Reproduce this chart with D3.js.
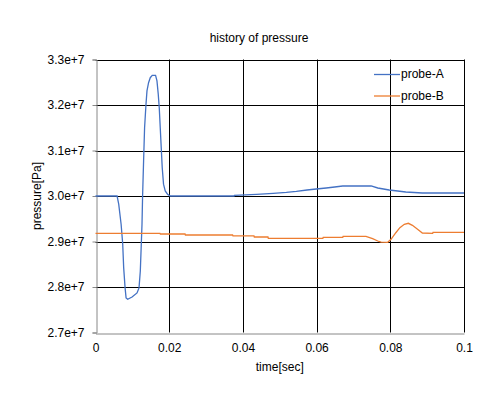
<!DOCTYPE html>
<html>
<head>
<meta charset="utf-8">
<script src="https://cdn.jsdelivr.net/npm/d3@7"></script>
<style>
  body { margin: 0; background: #fff; }
  text { font-family: "Liberation Sans", Arial, sans-serif; font-size: 12px; fill: #000; }
</style>
</head>
<body>
<script>
// DATA
var xTicks = [0, 0.02, 0.04, 0.06, 0.08, 0.1];
var yTicks = [2.7e7, 2.8e7, 2.9e7, 3.0e7, 3.1e7, 3.2e7, 3.3e7];
var seriesNames = ["probe-A", "probe-B"];

var probeA = [
  [0, 3.0e7], [0.00586, 3.0e7], [0.0063, 2.982e7], [0.00695, 2.938e7], [0.00738, 2.895e7],
  [0.00765, 2.842e7], [0.00803, 2.798e7], [0.0083, 2.776e7], [0.00873, 2.773e7], [0.00992, 2.778e7],
  [0.01127, 2.787e7], [0.01181, 2.798e7], [0.01216, 2.835e7], [0.01243, 2.895e7], [0.01262, 2.938e7],
  [0.01278, 3.0e7], [0.01305, 3.077e7], [0.01332, 3.150e7], [0.0137, 3.2015e7], [0.01397, 3.231e7],
  [0.0144, 3.249e7], [0.01486, 3.26e7], [0.0154, 3.265e7], [0.0163, 3.265e7], [0.01668, 3.253e7],
  [0.01703, 3.2235e7], [0.0173, 3.194e7], [0.01757, 3.150e7], [0.01784, 3.106e7], [0.01811, 3.062e7],
  [0.01846, 3.026e7], [0.01892, 3.011e7], [0.01954, 3.004e7], [0.0203, 3.0e7], [0.0376, 3.0e7],
  [0.0377, 3.0015e7], [0.0437, 3.0037e7], [0.0482, 3.0059e7], [0.0518, 3.0081e7], [0.0545, 3.0103e7],
  [0.0574, 3.0132e7], [0.0599, 3.0154e7], [0.0626, 3.0176e7], [0.0649, 3.0198e7], [0.0671, 3.022e7],
  [0.0748, 3.022e7], [0.0766, 3.0176e7], [0.0797, 3.0132e7], [0.082, 3.011e7], [0.0842, 3.0088e7],
  [0.0887, 3.0066e7], [0.1, 3.0066e7]
];

var probeB = [
  [0, 2.918e7], [0.0175, 2.918e7], [0.0176, 2.9165e7], [0.0243, 2.9165e7], [0.0244, 2.9143e7],
  [0.0372, 2.9143e7], [0.0373, 2.9125e7], [0.043, 2.9125e7], [0.0431, 2.9099e7], [0.0468, 2.9099e7],
  [0.0469, 2.907e7], [0.0617, 2.907e7], [0.0618, 2.9092e7], [0.0671, 2.9092e7], [0.0672, 2.9114e7],
  [0.0734, 2.9114e7], [0.0752, 2.9062e7], [0.0766, 2.9011e7], [0.0775, 2.8985e7], [0.0793, 2.8982e7],
  [0.0802, 2.9048e7], [0.0815, 2.9193e7], [0.0826, 2.9303e7], [0.0838, 2.9378e7], [0.0849, 2.94e7],
  [0.086, 2.9356e7], [0.0874, 2.9268e7], [0.0887, 2.9187e7], [0.0915, 2.918e7], [0.0916, 2.9202e7],
  [0.1, 2.9202e7]
];

var colors = ["#4472c4", "#ed7d31"];

// SETUP
var width = 502, height = 397,
    margin = {top: 59.5, right: 38, bottom: 64.5, left: 95.5};

var svg = d3.select("body").append("svg")
    .attr("width", width)
    .attr("height", height);

var x = d3.scaleLinear().domain([0, 0.1]).range([margin.left, width - margin.right]);
var y = d3.scaleLinear().domain([2.7e7, 3.3e7]).range([height - margin.bottom, margin.top]);

// gridlines
svg.append("g")
    .selectAll("line.hgrid")
    .data(yTicks.slice(1))
  .enter().append("line")
    .attr("x1", x(0)).attr("x2", x(0.1))
    .attr("y1", d => Math.round(y(d)) + 0.5).attr("y2", d => Math.round(y(d)) + 0.5)
    .attr("stroke", "#000");

svg.append("g")
    .selectAll("line.vgrid")
    .data(xTicks.slice(1))
  .enter().append("line")
    .attr("x1", d => Math.round(x(d)) + 0.5).attr("x2", d => Math.round(x(d)) + 0.5)
    .attr("y1", y(3.3e7)).attr("y2", y(2.7e7))
    .attr("stroke", "#000");

// axes
var xAxis = svg.append("g")
    .attr("transform", "translate(0," + (Math.round(y(2.7e7)) + 0.5) + ")")
    .call(d3.axisBottom(x).tickValues(xTicks).tickSize(0).tickPadding(10).tickFormat(d3.format("")));
var yAxis = svg.append("g")
    .attr("transform", "translate(" + (Math.round(x(0)) + 0.5) + ",0)")
    .call(d3.axisLeft(y).tickValues(yTicks).tickSize(4).tickPadding(8).tickFormat(d3.format(".1e")));

[xAxis, yAxis].forEach(function(a) {
  a.select(".domain").attr("stroke", "#888");
  a.selectAll(".tick line").attr("stroke", "#888");
  a.selectAll("text").attr("font-family", null).attr("font-size", null);
});

// lines
var line = d3.line().x(d => x(d[0])).y(d => y(d[1]));
[probeA, probeB].forEach(function(s, i) {
  svg.append("path")
      .datum(s)
      .attr("fill", "none")
      .attr("stroke", colors[i])
      .attr("stroke-width", 1.3)
      .attr("d", line);
});

// title and labels
svg.append("text")
    .attr("x", 259).attr("y", 42)
    .attr("text-anchor", "middle")
    .text("history of pressure");

svg.append("text")
    .attr("x", (x(0) + x(0.1)) / 2).attr("y", 371)
    .attr("text-anchor", "middle")
    .text("time[sec]");

svg.append("text")
    .attr("transform", "translate(41," + (y(3.0e7)) + ") rotate(-90)")
    .attr("text-anchor", "middle")
    .text("pressure[Pa]");

// legend
var legend = svg.append("g").attr("transform", "translate(374,74)");
seriesNames.forEach(function(name, i) {
  var g = legend.append("g").attr("transform", "translate(0," + (i * 21.5) + ")");
  g.append("line").attr("x1", 0).attr("x2", 26).attr("y1", 0.5).attr("y2", 0.5)
      .attr("stroke", colors[i]).attr("stroke-width", 1.3);
  g.append("text").attr("x", 27).attr("y", 0).attr("dy", "0.35em").text(name);
});
</script>
</body>
</html>
